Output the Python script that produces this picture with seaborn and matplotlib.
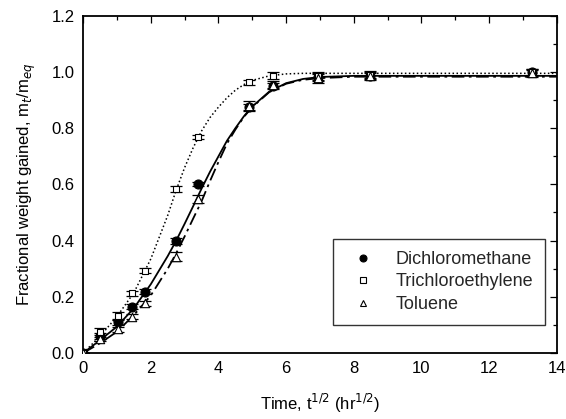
import matplotlib
matplotlib.use("Agg")
import matplotlib.pyplot as plt
from matplotlib.ticker import MultipleLocator, FormatStrFormatter
import seaborn as sns
import pandas as pd

sns.set_theme(style="white")
plt.rcParams['font.family'] = ['Liberation Sans', 'DejaVu Sans']

# measured points (time^1/2 in hr^1/2)
t_pts = [0.0, 0.5, 1.02, 1.44, 1.83, 2.74, 3.40, 4.90, 5.62, 6.93, 8.49, 13.27]
dcm_y = [0.0, 0.060, 0.111, 0.165, 0.218, 0.399, 0.601, 0.874, 0.950, 0.981, 0.987, 0.999]
dcm_err = [0.0, 0.010, 0.010, 0.008, 0.008, 0.010, 0.008, 0.012, 0.010, 0.020, 0.012, 0.012]
tce_y = [0.0, 0.076, 0.132, 0.212, 0.293, 0.583, 0.768, 0.963, 0.986, 0.985, 0.990, 1.000]
tce_err = [0.0, 0.012, 0.015, 0.008, 0.008, 0.010, 0.008, 0.008, 0.012, 0.012, 0.012, 0.012]
tol_y = [0.0, 0.050, 0.084, 0.129, 0.177, 0.343, 0.547, 0.880, 0.955, 0.980, 0.985, 0.995]
tol_err = [0.0, 0.008, 0.010, 0.008, 0.008, 0.015, 0.015, 0.015, 0.012, 0.012, 0.012, 0.012]

# fitted curves
t_fit = [0.0, 0.5, 1.0, 1.5, 2.0, 2.5, 2.75, 3.0, 3.25, 3.5, 3.75, 4.0, 4.25, 4.5, 4.75,
         5.0, 5.5, 6.0, 6.5, 7.0, 8.0, 10.0, 12.0, 14.0]
dcm_fit = [0.0, 0.046, 0.094, 0.160, 0.245, 0.345, 0.400, 0.460, 0.522, 0.585, 0.645, 0.700,
           0.755, 0.800, 0.842, 0.877, 0.930, 0.960, 0.975, 0.982, 0.986, 0.986, 0.986, 0.986]
tce_fit = [0.0, 0.060, 0.130, 0.215, 0.335, 0.490, 0.580, 0.660, 0.730, 0.790, 0.838, 0.875,
           0.908, 0.935, 0.955, 0.970, 0.986, 0.993, 0.995, 0.995, 0.995, 0.995, 0.995, 0.995]
tol_fit = [0.0, 0.035, 0.076, 0.135, 0.205, 0.300, 0.355, 0.415, 0.478, 0.540, 0.612, 0.680,
           0.745, 0.795, 0.840, 0.875, 0.928, 0.958, 0.972, 0.978, 0.983, 0.983, 0.983, 0.983]

names = ["Dichloromethane", "Trichloroethylene", "Toluene"]

fig = plt.figure(figsize=(5.66, 4.19), dpi=100)
ax = fig.add_axes([0.147, 0.1575, 0.8366, 0.805])

fit_df = pd.DataFrame({"t": t_fit * 3,
                       "y": dcm_fit + tce_fit + tol_fit,
                       "s": [names[0]] * len(t_fit) + [names[1]] * len(t_fit) + [names[2]] * len(t_fit)})

styles = {names[0]: dict(ls="-", lw=1.3),
          names[1]: dict(ls=(0, (1, 1.6)), lw=1.1),
          names[2]: dict(ls=(0, (7, 2.5, 1.5, 2.5)), lw=1.3)}
for nm in names:
    sub = fit_df[fit_df.s == nm]
    sns.lineplot(data=sub, x="t", y="y", ax=ax, color="black", legend=False,
                 linestyle=styles[nm]["ls"], linewidth=styles[nm]["lw"])

series = [(names[0], dcm_y, dcm_err, "o", "black", 6.5, 5.0),
          (names[1], tce_y, tce_err, "s", "white", 5.0, 4.0),
          (names[2], tol_y, tol_err, "^", "white", 6.0, 4.8)]
handles = []
for nm, ys, err, mk, fc, ms, lms in series:
    ax.errorbar(t_pts, ys, yerr=err, fmt="none", ecolor="black", elinewidth=0.9,
                capsize=4, capthick=0.9, zorder=3)
    pts = pd.DataFrame({"t": t_pts, "y": ys})
    sns.scatterplot(data=pts, x="t", y="y", ax=ax, marker=mk, s=ms ** 2,
                    facecolor=fc, edgecolor="black", linewidth=0.8, zorder=4, legend=False)
    h, = ax.plot([], [], linestyle="none", marker=mk, markersize=lms,
                 markerfacecolor=fc, markeredgecolor="black", markeredgewidth=0.8, label=nm)
    handles.append(h)

ax.set_xlim(0, 14)
ax.set_ylim(0, 1.2)
ax.xaxis.set_major_locator(MultipleLocator(2))
ax.xaxis.set_minor_locator(MultipleLocator(1))
ax.yaxis.set_major_locator(MultipleLocator(0.2))
ax.yaxis.set_minor_locator(MultipleLocator(0.1))
ax.yaxis.set_major_formatter(FormatStrFormatter("%.1f"))
ax.tick_params(which="both", direction="in", top=True, right=True, colors="black",
               labelsize=12, width=0.9)
ax.tick_params(which="major", length=5, pad=6)
ax.tick_params(which="minor", length=3)
for sp in ax.spines.values():
    sp.set_color("black")
    sp.set_linewidth(1.3)

ax.set_xlabel(r"Time, t$^{1/2}$ (hr$^{1/2}$)", fontsize=12, color="black", labelpad=11)
ax.set_ylabel(r"Fractional weight gained, m$_t$/m$_{eq}$", fontsize=12, color="black", labelpad=10)

leg = ax.legend(handles=handles, loc="lower right", bbox_to_anchor=(0.975, 0.083),
                borderaxespad=0, fontsize=13, frameon=True, fancybox=False, edgecolor="black",
                handletextpad=0.78, borderpad=0.67, labelspacing=0.3, handlelength=2.0)
leg.get_frame().set_linewidth(1.0)

fig.savefig("out.png", dpi=100)
